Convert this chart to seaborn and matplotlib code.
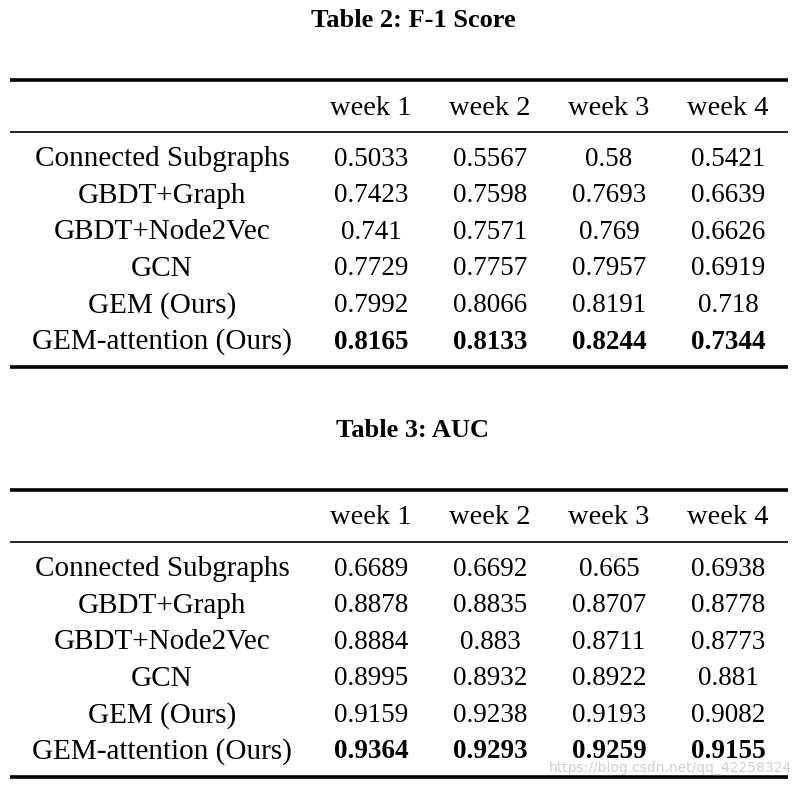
import matplotlib
matplotlib.use('Agg')
import matplotlib.pyplot as plt
import seaborn as sns

# table contents
methods = ['Connected Subgraphs', 'GBDT+Graph', 'GBDT+Node2Vec', 'GCN',
           'GEM (Ours)', 'GEM-attention (Ours)']
weeks = ['week 1', 'week 2', 'week 3', 'week 4']

f1_scores = [
    ['0.5033', '0.5567', '0.58', '0.5421'],
    ['0.7423', '0.7598', '0.7693', '0.6639'],
    ['0.741', '0.7571', '0.769', '0.6626'],
    ['0.7729', '0.7757', '0.7957', '0.6919'],
    ['0.7992', '0.8066', '0.8191', '0.718'],
    ['0.8165', '0.8133', '0.8244', '0.7344'],
]
auc_scores = [
    ['0.6689', '0.6692', '0.665', '0.6938'],
    ['0.8878', '0.8835', '0.8707', '0.8778'],
    ['0.8884', '0.883', '0.8711', '0.8773'],
    ['0.8995', '0.8932', '0.8922', '0.881'],
    ['0.9159', '0.9238', '0.9193', '0.9082'],
    ['0.9364', '0.9293', '0.9259', '0.9155'],
]
titles = ['Table 2: F-1 Score', 'Table 3: AUC']

sns.set_theme(style='white')
plt.rcParams['font.family'] = ['Liberation Serif', 'DejaVu Serif']
plt.rcParams['text.color'] = 'black'

fig = plt.figure(figsize=(8.03, 7.88), dpi=100)
ax = fig.add_axes([0, 0, 1, 1])
ax.set_xlim(0, 803)
ax.set_ylim(788, 0)
ax.axis('off')

col_x = [371, 490, 609, 728]
label_x = 162


def draw_table(top, title, values):
    ax.text(413, top - 60, title, ha='center', va='center', fontsize=19,
            fontweight='bold')
    ax.hlines(top, 10, 788, color='black', linewidth=2.6)
    for x, w in zip(col_x, weeks):
        ax.text(x, top + 28, w, ha='center', va='center', fontsize=20.5)
    ax.hlines(top + 52, 10, 788, color='black', linewidth=1.2)
    for i, (m, row) in enumerate(zip(methods, values)):
        y = top + 79 + i * 36.6
        ax.text(label_x, y, m, ha='center', va='center', fontsize=21)
        bold = i == len(methods) - 1
        for x, v in zip(col_x, row):
            ax.text(x, y, v, ha='center', va='center', fontsize=19.5,
                    fontweight='bold' if bold else 'normal')
    ax.hlines(top + 287, 10, 788, color='black', linewidth=2.6)


draw_table(80, titles[0], f1_scores)
draw_table(490, titles[1], auc_scores)

# faint watermark
ax.text(792, 768, 'https://blog.csdn.net/qq_42258324', ha='right',
        va='center', fontsize=10, color='#d0d0d0', family='DejaVu Sans')

fig.savefig('out.png', dpi=100, facecolor='white')
